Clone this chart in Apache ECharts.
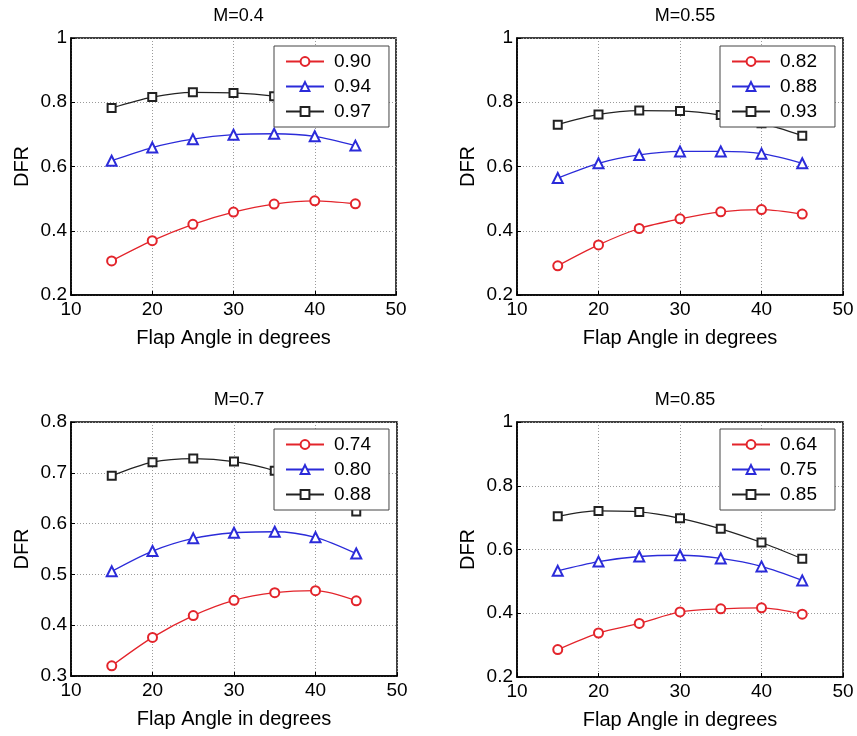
<!DOCTYPE html>
<html>
<head>
<meta charset="utf-8">
<script src="https://cdn.jsdelivr.net/npm/echarts@6/dist/echarts.min.js"></script>
<style>html,body{margin:0;padding:0;background:#fff}#c{width:857px;height:736px}</style>
</head>
<body>
<div id="c"></div>
<script>
// ---- data ----
const angles = [15, 20, 25, 30, 35, 40, 45];
const titles = ['M=0.4', 'M=0.55', 'M=0.7', 'M=0.85'];
const legendNames = [
  ['0.90', '0.94', '0.97'],
  ['0.82', '0.88', '0.93'],
  ['0.74', '0.80', '0.88'],
  ['0.64', '0.75', '0.85']
];
// M=0.4
const m04_red   = [0.306, 0.369, 0.420, 0.458, 0.483, 0.493, 0.484];
const m04_blue  = [0.618, 0.659, 0.685, 0.699, 0.702, 0.694, 0.665];
const m04_black = [0.782, 0.816, 0.831, 0.829, 0.819, 0.800, 0.775];
// M=0.55
const m055_red   = [0.291, 0.356, 0.407, 0.437, 0.459, 0.466, 0.452];
const m055_blue  = [0.564, 0.610, 0.636, 0.647, 0.647, 0.640, 0.610];
const m055_black = [0.730, 0.762, 0.774, 0.773, 0.760, 0.735, 0.696];
// M=0.7
const m07_red   = [0.320, 0.376, 0.419, 0.449, 0.464, 0.468, 0.448];
const m07_blue  = [0.506, 0.546, 0.571, 0.582, 0.584, 0.573, 0.541];
const m07_black = [0.694, 0.721, 0.728, 0.722, 0.704, 0.672, 0.624];
// M=0.85
const m085_red   = [0.286, 0.338, 0.368, 0.404, 0.414, 0.417, 0.397];
const m085_blue  = [0.533, 0.562, 0.578, 0.582, 0.572, 0.547, 0.503];
const m085_black = [0.704, 0.721, 0.718, 0.698, 0.665, 0.622, 0.571];

const panelSeries = [
  [m04_red, m04_blue, m04_black],
  [m055_red, m055_blue, m055_black],
  [m07_red, m07_blue, m07_black],
  [m085_red, m085_blue, m085_black]
];
const yRanges = [[0.2, 1, 0.2], [0.2, 1, 0.2], [0.3, 0.8, 0.1], [0.2, 1, 0.2]];

// ---- layout / style ----
const FONT = 'Liberation Sans, Arial, Helvetica, sans-serif';
const grids = [
  {left: 71, top: 38, width: 325, height: 257},
  {left: 517, top: 38, width: 326, height: 257},
  {left: 71, top: 422, width: 326, height: 254},
  {left: 517, top: 422, width: 326, height: 255}
];
const legendPos = [
  {left: 274, top: 46},
  {left: 720, top: 46},
  {left: 274, top: 429},
  {left: 720, top: 429}
];
const colors = ['#e3242b', '#2b2bd9', '#222222'];
const symbols = ['emptyCircle', 'emptyTriangle', 'emptyRect'];
const symSizes = [9, 10, 8];

const option = {
  animation: false,
  backgroundColor: '#fff',
  textStyle: {fontFamily: FONT, color: '#000'},
  title: [], grid: [], xAxis: [], yAxis: [], legend: [], series: []
};

grids.forEach((g, i) => {
  option.grid.push(Object.assign({show: true, borderColor: '#000', borderWidth: 1.5, backgroundColor: '#fff'}, g));
  option.title.push({
    text: titles[i],
    left: g.left + g.width / 2, top: g.top - 36, textAlign: 'center',
    textStyle: {fontFamily: FONT, fontSize: 18, fontWeight: 'normal', color: '#000'}
  });
  option.xAxis.push({
    type: 'value', gridIndex: i, min: 10, max: 50, interval: 10,
    name: 'Flap Angle in degrees', nameLocation: 'middle', nameGap: 33,
    nameTextStyle: {fontFamily: FONT, fontSize: 20, color: '#000'},
    axisLine: {show: true, onZero: false, lineStyle: {color: '#000', width: 1.5}},
    axisTick: {show: true, inside: true, length: 4, lineStyle: {color: '#000'}},
    axisLabel: {fontFamily: FONT, fontSize: 19, color: '#000', margin: 5},
    splitLine: {show: true, lineStyle: {color: '#9a9a9a', type: [1, 2], width: 1}}
  });
  const yr = yRanges[i];
  option.yAxis.push({
    type: 'value', gridIndex: i, min: yr[0], max: yr[1], interval: yr[2],
    name: 'DFR', nameLocation: 'middle', nameGap: 39,
    nameTextStyle: {fontFamily: FONT, fontSize: 20, color: '#000'},
    axisLine: {show: true, onZero: false, lineStyle: {color: '#000', width: 1.5}},
    axisTick: {show: true, inside: true, length: 4, lineStyle: {color: '#000'}},
    axisLabel: {fontFamily: FONT, fontSize: 19, color: '#000', margin: 4,
      formatter: v => String(+v.toFixed(2))},
    splitLine: {show: true, lineStyle: {color: '#9a9a9a', type: [1, 2], width: 1}}
  });
  const names = [];
  panelSeries[i].forEach((vals, k) => {
    const nm = 'p' + i + ':' + legendNames[i][k];
    names.push(nm);
    option.series.push({
      type: 'line', name: nm, xAxisIndex: i, yAxisIndex: i,
      data: angles.map((a, j) => [a, vals[j]]),
      smooth: 0.3,
      symbol: symbols[k], symbolSize: symSizes[k],
      lineStyle: {color: colors[k], width: 1.3},
      itemStyle: {color: colors[k], borderColor: colors[k], borderWidth: 1.2},
      z: 2
    });
  });
  option.legend.push({
    data: names, orient: 'vertical',
    left: legendPos[i].left, top: legendPos[i].top,
    padding: [6, 18, 6, 11], itemGap: 6, itemWidth: 38, itemHeight: 11,
    backgroundColor: '#fff', borderColor: '#444', borderWidth: 1, borderRadius: 0,
    textStyle: {fontFamily: FONT, fontSize: 19, color: '#000', lineHeight: 19, padding: [0, 0, 0, 5]},
    formatter: n => n.split(':')[1],
    selectedMode: false, z: 10
  });
});

const chart = echarts.init(document.getElementById('c'), null, {renderer: 'canvas'});
chart.setOption(option);
</script>
</body>
</html>
